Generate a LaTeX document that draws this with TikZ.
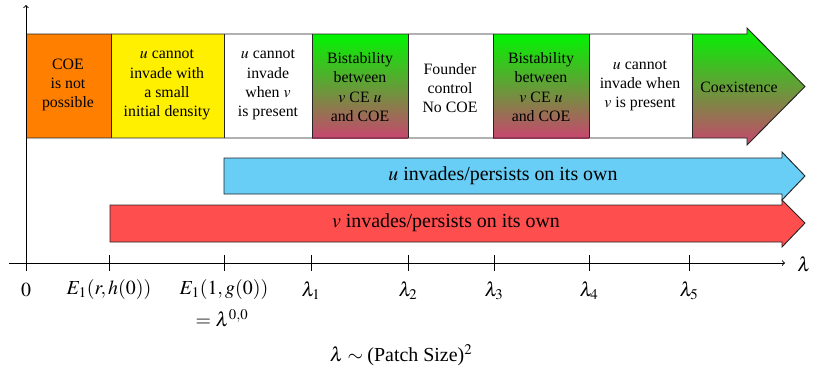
\documentclass[tikz,border=0pt]{standalone}
\usepackage{mathptmx}
\usepackage[no-math]{fontspec}
\setmainfont{Liberation Serif}
\definecolor{coeorange}{RGB}{255,128,0}
\definecolor{smallyellow}{RGB}{255,240,0}
\definecolor{bistop}{RGB}{0,245,0}
\definecolor{bisbot}{RGB}{200,70,110}
\definecolor{ucyan}{RGB}{104,206,245}
\definecolor{vred}{RGB}{255,78,78}
\tikzset{
  outline/.style={black!85,line width=0.8pt},
  celltext/.style={align=center,inner sep=0pt,font=\fontsize{13.5}{16.4}\selectfont},
  bandtext/.style={inner sep=0pt,font=\fontsize{17}{20}\selectfont},
  axislabel/.style={inner sep=0pt,font=\fontsize{17}{20}\selectfont},
}
\begin{document}
\begin{tikzpicture}[x=0.03cm,y=-0.03cm]
\useasboundingbox (0,0) rectangle (832,378);
% regimes along the top
\fill[coeorange] (26,34) rectangle (111,138);
\fill[smallyellow] (111,34) rectangle (224,138);
\shade[top color=bistop,bottom color=bisbot] (312,34) rectangle (408,138);
\shade[top color=bistop,bottom color=bisbot] (493,34) rectangle (589,138);
\shade[top color=bistop,bottom color=bisbot] (692,34) -- (747,34) -- (747,28) -- (805,86.5) -- (747,145) -- (747,138) -- (692,138) -- cycle;
\draw[outline] (26,34) -- (747,34) -- (747,28) -- (805,86.5) -- (747,145) -- (747,138) -- (26,138);
\foreach \x in {111,224,312,408,493,589,692}
  \draw[outline] (\x,34) -- (\x,138);
\node[celltext] (nocoe) at (68,85) {COE\\is not\\possible};
\node[celltext] (smalldens) at (167,85) {$u$ cannot\\invade with\\a small\\initial density};
\node[celltext] (uvpresent) at (268,85) {$u$ cannot\\invade\\when $v$\\is present};
\node[celltext] (bistabA) at (360,87) {Bistability\\between\\$v$ CE $u$\\and COE};
\node[celltext] (founder) at (450,88) {Founder\\control\\No COE};
\node[celltext] (bistabB) at (541,87) {Bistability\\between\\$v$ CE $u$\\and COE};
\node[celltext] (uvwhen) at (640,86) {$u$ cannot\\invade when\\$v$ is present};
\node[celltext] (coex) at (739,87) {Coexistence};
% persistence bands
\draw[outline,fill=ucyan] (224,158) -- (782,158) -- (782,152) -- (805,176) -- (782,200) -- (782,194) -- (224,194) -- cycle;
\node[bandtext] (upersist) at (503,176) {$u$ invades/persists on its own};
\draw[outline,fill=vred] (110,205) -- (782,205) -- (782,200) -- (805,223) -- (782,247) -- (782,242) -- (110,242) -- cycle;
\node[bandtext] (vpersist) at (446,223) {$v$ invades/persists on its own};
% axes
\coordinate (xstart) at (9,263);
\coordinate (xend) at (785,263);
\coordinate (ybot) at (26,271);
\coordinate (ytop) at (26,5);
\draw[black,line width=0.8pt,->] (xstart) -- (xend);
\draw[black,line width=0.8pt,->] (ybot) -- (ytop);
\node[axislabel] (lam) at (804,264) {$\lambda$};
\foreach \x in {109,224,311,408,494,589,689}
  \draw[black,line width=0.8pt] (\x,255) -- (\x,271);
\node[axislabel] (tzero) at (26,290) {$0$};
\node[axislabel] (trh) at (109,290) {$E_1(r,h(0))$};
\node[axislabel] (tg) at (224,290) {$E_1(1,g(0))$};
\node[axislabel] (tgeq) at (222,318) {$=\lambda^{0,0}$};
\node[axislabel] (tlone) at (311,291) {$\lambda_1$};
\node[axislabel] (tltwo) at (408,291) {$\lambda_2$};
\node[axislabel] (tlthree) at (494,291) {$\lambda_3$};
\node[axislabel] (tlfour) at (589,291) {$\lambda_4$};
\node[axislabel] (tlfive) at (689,291) {$\lambda_5$};
\node[axislabel] (patch) at (401,355) {$\lambda\sim{}$(Patch Size)$^2$};
\end{tikzpicture}
\end{document}
